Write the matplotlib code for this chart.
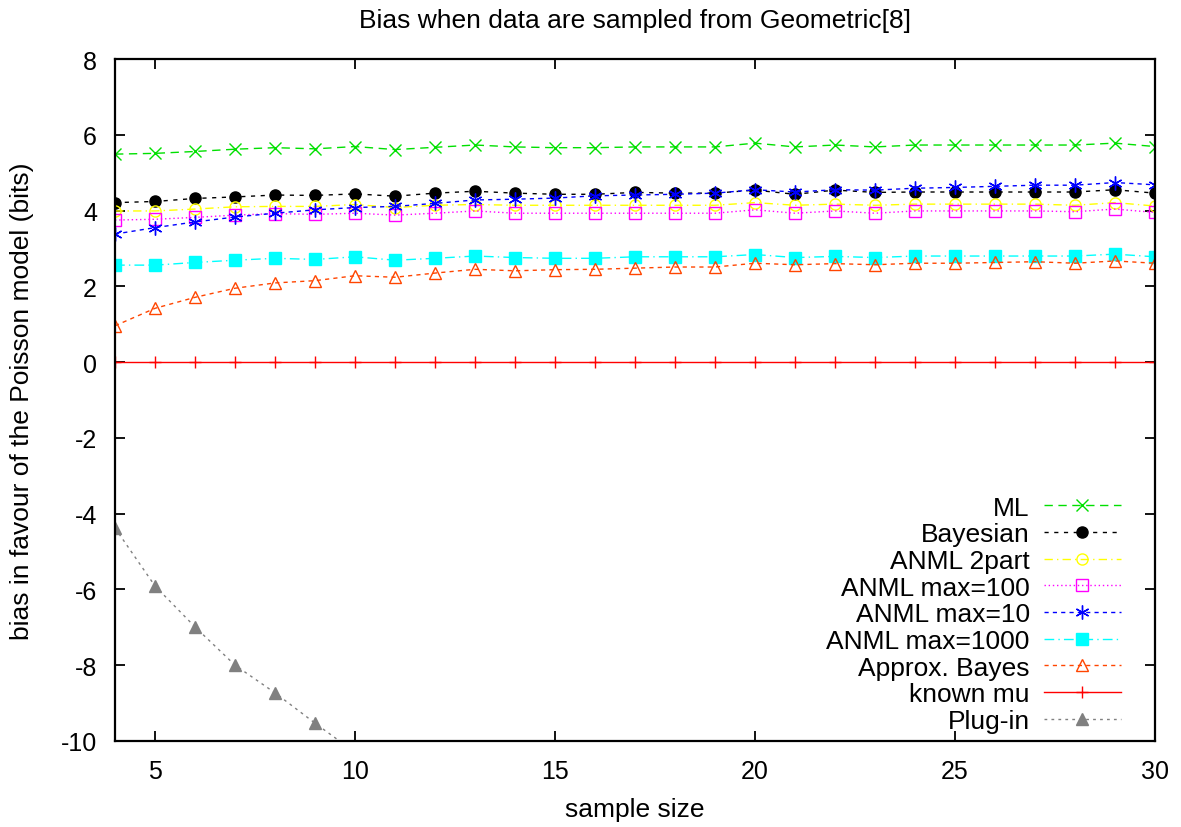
import matplotlib
matplotlib.use("Agg")
import matplotlib.pyplot as plt

plt.rcParams["font.family"] = ["Liberation Sans", "DejaVu Sans"]
plt.rcParams["axes.unicode_minus"] = False

n = list(range(4, 31))

ml = [5.49, 5.51, 5.56, 5.62, 5.66, 5.63, 5.69, 5.61, 5.67, 5.73,
      5.68, 5.66, 5.66, 5.68, 5.68, 5.68, 5.78, 5.68, 5.73, 5.68,
      5.73, 5.73, 5.73, 5.73, 5.73, 5.78, 5.69]
bayesian = [4.21, 4.24, 4.32, 4.36, 4.41, 4.40, 4.44, 4.38, 4.46, 4.51,
            4.46, 4.43, 4.43, 4.48, 4.46, 4.46, 4.54, 4.43, 4.54, 4.48,
            4.49, 4.49, 4.49, 4.49, 4.49, 4.55, 4.46]
anml_2part = [3.99, 3.99, 4.04, 4.10, 4.11, 4.11, 4.16, 4.08, 4.14, 4.16,
              4.14, 4.14, 4.14, 4.14, 4.14, 4.14, 4.21, 4.14, 4.17, 4.14,
              4.17, 4.17, 4.17, 4.17, 4.14, 4.21, 4.12]
anml_100 = [3.75, 3.77, 3.82, 3.88, 3.92, 3.90, 3.93, 3.88, 3.93, 3.99,
            3.93, 3.93, 3.93, 3.93, 3.93, 3.93, 4.02, 3.93, 3.99, 3.93,
            3.99, 3.99, 3.99, 3.99, 3.97, 4.04, 3.95]
anml_10 = [3.38, 3.55, 3.70, 3.83, 3.93, 4.02, 4.08, 4.11, 4.19, 4.28,
           4.30, 4.33, 4.39, 4.41, 4.43, 4.46, 4.55, 4.49, 4.55, 4.54,
           4.59, 4.61, 4.64, 4.67, 4.67, 4.74, 4.68]
anml_1000 = [2.56, 2.56, 2.63, 2.69, 2.74, 2.71, 2.78, 2.69, 2.74, 2.80,
             2.76, 2.74, 2.74, 2.78, 2.78, 2.78, 2.84, 2.76, 2.79, 2.76,
             2.80, 2.80, 2.80, 2.80, 2.80, 2.85, 2.78]
approx_bayes = [0.96, 1.42, 1.71, 1.95, 2.09, 2.15, 2.28, 2.24, 2.35, 2.45,
                2.41, 2.44, 2.45, 2.48, 2.51, 2.51, 2.61, 2.57, 2.60, 2.57,
                2.61, 2.61, 2.63, 2.65, 2.61, 2.67, 2.61]
known_mu = [0.0] * len(n)
plugin_n = [4, 5, 6, 7, 8, 9, 10]
plugin = [-4.38, -5.91, -6.99, -8.0, -8.73, -9.53, -10.3]

fs = 19
fig = plt.figure(figsize=(11.81, 8.28), dpi=100)
ax = fig.add_axes([0.0974, 0.1039, 0.8806, 0.8236])

lw = 1.0
ax.plot(n, ml, color="#00e000", ls=(0, (6, 4)), lw=lw, marker="x", ms=9, mew=1, label="ML")
ax.plot(n, bayesian, color="black", ls=(0, (3, 4)), lw=lw, marker="o", ms=8, label="Bayesian")
ax.plot(n, anml_2part, color="#ffff00", ls=(0, (6, 3, 1, 3)), lw=lw, marker="o", ms=8,
        mfc="none", label="ANML 2part")
ax.plot(n, anml_100, color="#ff00ff", ls=(0, (1, 2)), lw=lw, marker="s", ms=8,
        mfc="none", label="ANML max=100")
ax.plot(n, anml_10, color="#0000ff", ls=(0, (3, 3)), lw=lw, marker=(6, 2, 0), ms=10,
        mew=1, label="ANML max=10")
ax.plot(n, anml_1000, color="#00ffff", ls=(0, (7, 3, 1, 3)), lw=lw, marker="s", ms=8,
        label="ANML max=1000")
ax.plot(n, approx_bayes, color="#ff4500", ls=(0, (3, 3)), lw=lw, marker="^", ms=8,
        mfc="none", label="Approx. Bayes")
ax.plot(n, known_mu, color="#ff0000", ls="-", lw=lw, marker="+", ms=9, label="known mu")
ax.plot(plugin_n, plugin, color="#808080", ls=(0, (2, 3)), lw=lw, marker="^", ms=8,
        label="Plug-in")

ax.set_xlim(4, 30)
ax.set_ylim(-10, 8)
ax.set_xticks([5, 10, 15, 20, 25, 30])
ax.set_yticks(range(-10, 9, 2))
ax.tick_params(direction="in", top=True, right=True, length=7, width=1.3,
               labelsize=18, pad=13)
for s in ax.spines.values():
    s.set_linewidth(1.6)

ax.set_title("Bias when data are sampled from Geometric[8]", fontsize=fs, pad=23)
ax.set_xlabel("sample size", fontsize=fs, labelpad=10)
ax.set_ylabel("bias in favour of the Poisson model (bits)", fontsize=fs, labelpad=19)

leg = ax.legend(loc="lower right", frameon=False, markerfirst=False, fontsize=fs,
                handlelength=2.9, handletextpad=0.55, labelspacing=0.1,
                borderaxespad=0, borderpad=0, bbox_to_anchor=(0.967, 0.012))
for t in leg.get_texts():
    t.set_ha("right")

fig.savefig("out.png", dpi=100)
